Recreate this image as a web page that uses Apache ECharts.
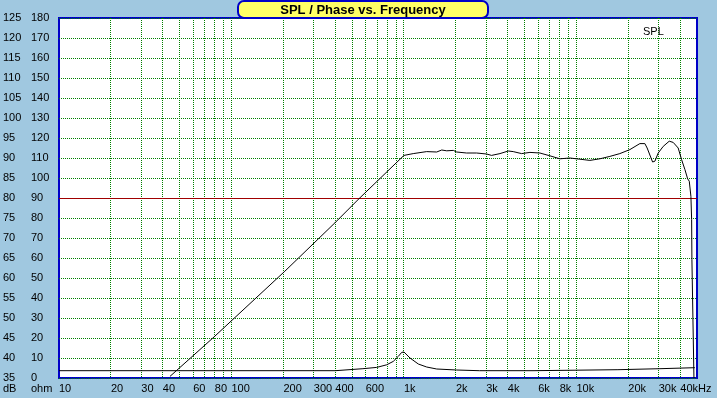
<!DOCTYPE html>
<html style="height: 100%">
<head>
    <meta charset="utf-8">
    <script src="https://cdn.jsdelivr.net/npm/echarts@6/dist/echarts.min.js"></script>
</head>
<body style="height: 100%; margin: 0; background: #A0C8E0">
    <div id="container" style="width: 717px; height: 398px"></div>
    <script type="text/javascript">
        // SPL curve (Hz, dB)
        var splFreq = [44, 78, 204, 398, 548, 1000, 1132, 1355, 1548, 1656, 1770, 1933, 2022, 2307, 2637, 3013, 3219, 3603, 4025, 4300, 4810, 5374, 6138, 6950, 8017, 9160, 10470, 11960, 13670, 15620, 17850, 20400, 23320, 24930, 25700, 27640, 28510, 29790, 31850, 34510, 36390, 38900, 40700, 42560, 44120, 45100, 46100, 46540, 46720, 48000];
        var splDb = [35.4, 45, 61.7, 73.8, 79.8, 90.65, 91.1, 91.6, 91.5, 92.0, 91.8, 91.9, 91.5, 91.25, 91.25, 91.0, 90.65, 91.1, 91.75, 91.6, 91.1, 91.4, 91.25, 90.6, 89.8, 90.0, 89.7, 89.4, 89.8, 90.4, 91.1, 92.1, 93.6, 93.6, 92.5, 89.0, 89.2, 91.25, 92.9, 94.2, 93.9, 92.5, 89.6, 87.1, 84.8, 84.2, 80.4, 74.6, 64.6, 35];

        // impedance curve (Hz, ohm)
        var zFreq = [10, 400, 405, 578, 695, 794, 867, 927, 970, 1000, 1084, 1211, 1354, 1548, 2022, 2735, 5600, 5650, 17400, 17500, 30500, 30600, 48600];
        var zOhm = [3.65, 3.65, 4.15, 4.65, 5.3, 6.6, 8.3, 10.8, 12.8, 13, 10, 7, 5.5, 4.5, 4.0, 3.65, 3.65, 4.15, 4.15, 4.65, 4.65, 5.15, 5.15];

        var tickFreqs = [10, 20, 30, 40, 60, 80, 100, 200, 300, 400, 600, 1000, 2000, 3000, 4000, 6000, 8000, 10000, 20000, 30000, 40000];
        var tickLabels = ['10', '20', '30', '40', '60', '80', '100', '200', '300', '400', '600', '1k', '2k', '3k', '4k', '6k', '8k', '10k', '20k', '30k', '40kHz'];
        var gridFreqs = [20, 30, 40, 50, 60, 70, 80, 90, 100, 200, 300, 400, 500, 600, 700, 800, 900,
            1000, 2000, 3000, 4000, 5000, 6000, 7000, 8000, 9000, 10000, 20000, 30000, 40000];

        var font = 'Liberation Sans';
        var green = '#008000';

        function lg(f) { return Math.log10(f); }

        var dom = document.getElementById('container');
        var myChart = echarts.init(dom);
        var option = {
            backgroundColor: '#A0C8E0',
            animation: false,
            grid: {
                left: 59, top: 18, right: 20, height: 360,
                show: true,
                backgroundColor: '#ffffff',
                borderColor: '#0000C8',
                borderWidth: 2
            },
            xAxis: {
                type: 'value',
                min: 1,
                max: lg(50000),
                axisLine: { show: false },
                axisTick: { show: false },
                splitLine: { show: false },
                axisLabel: {
                    customValues: tickFreqs.map(lg),
                    margin: 5,
                    align: 'left',
                    color: '#000',
                    fontFamily: font,
                    fontSize: 11,
                    formatter: function (v) {
                        for (var i = 0; i < tickFreqs.length; i++) {
                            if (Math.abs(lg(tickFreqs[i]) - v) < 1e-6) return tickLabels[i];
                        }
                        return '';
                    }
                }
            },
            yAxis: [{
                type: 'value',
                min: 35, max: 125, interval: 5,
                axisLine: { show: false },
                axisTick: { show: false },
                splitLine: { show: true, lineStyle: { color: green, type: [1, 1], width: 1 } },
                axisLabel: {
                    margin: 56, align: 'left', color: '#000',
                    fontFamily: font, fontSize: 11, padding: [0, 0, 5, 0]
                }
            }, {
                type: 'value',
                position: 'left',
                min: 0, max: 180, interval: 10,
                axisLine: { show: false },
                axisTick: { show: false },
                splitLine: { show: false },
                axisLabel: {
                    margin: 28, align: 'left', color: '#000',
                    fontFamily: font, fontSize: 11, padding: [0, 0, 5, 0]
                }
            }],
            graphic: [{
                type: 'rect',
                shape: { x: 238, y: 1, width: 250, height: 17, r: 6 },
                style: { fill: '#FFFF66', stroke: '#0000C8', lineWidth: 2 },
                z: 100
            }, {
                type: 'text',
                x: 363, y: 10,
                style: {
                    text: 'SPL / Phase vs. Frequency',
                    fill: '#000', font: 'bold 13px "Liberation Sans"',
                    align: 'center', verticalAlign: 'middle'
                },
                z: 101
            }, {
                type: 'text', x: 643, y: 32,
                style: { text: 'SPL', fill: '#000', font: '11px "Liberation Sans"', verticalAlign: 'middle' },
                z: 101
            }, {
                type: 'text', x: 3, y: 389,
                style: { text: 'dB', fill: '#000', font: '11px "Liberation Sans"', verticalAlign: 'middle' }
            }, {
                type: 'text', x: 31, y: 389,
                style: { text: 'ohm', fill: '#000', font: '11px "Liberation Sans"', verticalAlign: 'middle' }
            }],
            series: [{
                // vertical frequency grid
                type: 'custom',
                silent: true,
                z: 1,
                data: gridFreqs.map(function (f) { return [lg(f)]; }),
                renderItem: function (params, api) {
                    var top = api.coord([api.value(0), 125]);
                    var bot = api.coord([api.value(0), 35]);
                    var x = Math.floor(top[0]) + 0.5;
                    return {
                        type: 'line',
                        shape: { x1: x, y1: top[1], x2: x, y2: bot[1] },
                        style: { stroke: green, lineWidth: 1, lineDash: [1, 1] }
                    };
                }
            }, {
                name: 'SPL',
                type: 'line',
                yAxisIndex: 0,
                showSymbol: false,
                lineStyle: { color: '#000', width: 1 },
                data: splFreq.map(function (f, i) { return [lg(f), splDb[i]]; }),
                markLine: {
                    silent: true,
                    symbol: 'none',
                    label: { show: false },
                    lineStyle: { color: '#A00000', type: 'solid', width: 1 },
                    data: [{ yAxis: 80 }]
                },
                z: 5
            }, {
                name: 'Impedance',
                type: 'line',
                yAxisIndex: 1,
                showSymbol: false,
                lineStyle: { color: '#000', width: 1 },
                data: zFreq.map(function (f, i) { return [lg(f), zOhm[i]]; }),
                z: 5
            }]
        };
        myChart.setOption(option);
    </script>
</body>
</html>
